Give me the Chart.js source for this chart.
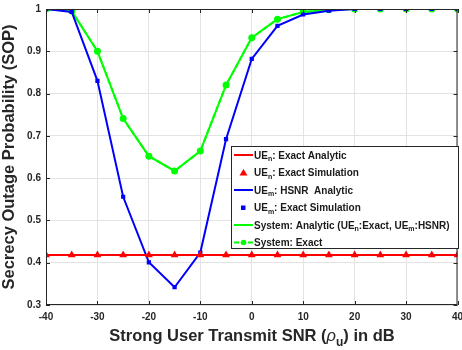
<!DOCTYPE html>
<html>
<head>
<meta charset="utf-8">
<script src="https://cdn.jsdelivr.net/npm/chart.js@4/dist/chart.umd.min.js"></script>
<style>
  html, body { margin: 0; padding: 0; background: #fff; }
  #wrap { width: 462px; height: 350px; position: relative; }
</style>
</head>
<body>
<div id="wrap"><canvas id="sopChart" width="462" height="350"></canvas></div>
<script>
// SNR axis (dB)
const snr = [-40, -35, -30, -25, -20, -15, -10, -5, 0, 5, 10, 15, 20, 25, 30, 35, 40];
// UE_n exact (flat)
const ueN = [0.418, 0.418, 0.418, 0.418, 0.418, 0.418, 0.418, 0.418, 0.418, 0.418, 0.418, 0.418, 0.418, 0.418, 0.418, 0.418, 0.418];
// UE_m HSNR analytic / exact simulation
const ueM = [1, 0.993, 0.83, 0.556, 0.401, 0.342, 0.424, 0.692, 0.882, 0.96, 0.987, 0.996, 1, 1, 1, 1, 1];
// System SOP
const sys = [1, 0.995, 0.90, 0.741, 0.652, 0.617, 0.664, 0.82, 0.932, 0.976, 0.993, 0.998, 1, 1, 1, 1, 1];

const xTicks = [-40, -30, -20, -10, 0, 10, 20, 30, 40];
const yTicks = [0.3, 0.4, 0.5, 0.6, 0.7, 0.8, 0.9, 1];

const RED = '#ff0000', BLUE = '#0000ff', GREEN = '#00ff00';
const FONT = '"Liberation Sans", Arial, sans-serif';

// legend rows: [segments, style]; segment = [text, isSubscript]
const legendRows = [
  { segs: [['UE', 0], ['n', 1], [': Exact Analytic', 0]], color: RED, kind: 'line' },
  { segs: [['UE', 0], ['n', 1], [': Exact Simulation', 0]], color: RED, kind: 'triangle' },
  { segs: [['UE', 0], ['m', 1], [': HSNR  Analytic', 0]], color: BLUE, kind: 'line' },
  { segs: [['UE', 0], ['m', 1], [': Exact Simulation', 0]], color: BLUE, kind: 'square' },
  { segs: [['System: Analytic (UE', 0], ['n', 1], [':Exact, UE', 0], ['m', 1], [':HSNR)', 0]], color: GREEN, kind: 'line' },
  { segs: [['System: Exact', 0]], color: GREEN, kind: 'dashcircle' }
];

function pts(arr) {
  return arr.map((v, i) => ({ x: snr[i], y: v }));
}

// draws frame, inner ticks, legend box and x title
const decorPlugin = {
  id: 'decor',
  afterDatasetsDraw(chart) {
    const { ctx, chartArea: a, scales } = chart;
    ctx.save();
    // frame
    ctx.strokeStyle = '#262626';
    ctx.lineWidth = 1;
    ctx.strokeRect(a.left + 0.5, a.top + 0.5, a.right - a.left - 1, a.bottom - a.top - 1);
    // inward tick marks
    ctx.beginPath();
    xTicks.forEach(t => {
      const px = Math.round(scales.x.getPixelForValue(t)) + 0.5;
      ctx.moveTo(px, a.bottom); ctx.lineTo(px, a.bottom - 4);
      ctx.moveTo(px, a.top); ctx.lineTo(px, a.top + 4);
    });
    yTicks.forEach(t => {
      const py = Math.round(scales.y.getPixelForValue(t)) + 0.5;
      ctx.moveTo(a.left, py); ctx.lineTo(a.left + 4, py);
      ctx.moveTo(a.right, py); ctx.lineTo(a.right - 4, py);
    });
    ctx.stroke();

    // legend
    const bx = 231.5, by = 146.5, bw = 227, bh = 102;
    ctx.fillStyle = '#fff';
    ctx.fillRect(bx, by, bw, bh);
    ctx.strokeStyle = '#262626';
    ctx.strokeRect(bx, by, bw, bh);
    legendRows.forEach((r, i) => {
      const cy = 155 + i * 17.5;
      ctx.strokeStyle = r.color;
      ctx.fillStyle = r.color;
      ctx.lineWidth = 2;
      if (r.kind === 'line') {
        ctx.beginPath(); ctx.moveTo(234, cy); ctx.lineTo(253, cy); ctx.stroke();
      } else if (r.kind === 'triangle') {
        ctx.beginPath(); ctx.moveTo(243.5, cy - 3.5); ctx.lineTo(247.5, cy + 3); ctx.lineTo(239.5, cy + 3); ctx.closePath(); ctx.fill();
      } else if (r.kind === 'square') {
        ctx.fillRect(241, cy - 2, 4.5, 4.5);
      } else if (r.kind === 'dashcircle') {
        ctx.beginPath(); ctx.moveTo(234, cy); ctx.lineTo(239, cy); ctx.moveTo(248, cy); ctx.lineTo(253, cy); ctx.stroke();
        ctx.beginPath(); ctx.arc(243.5, cy, 2.8, 0, Math.PI * 2); ctx.fill();
      }
      let tx = 254;
      ctx.fillStyle = '#1a1a1a';
      ctx.textBaseline = 'alphabetic';
      ctx.textAlign = 'left';
      r.segs.forEach(([s, sub]) => {
        ctx.font = sub ? 'bold 7px ' + FONT : 'bold 10px ' + FONT;
        ctx.fillText(s, tx, cy + (sub ? 6 : 3.5));
        tx += ctx.measureText(s).width;
      });
    });

    // x axis title with rho_u
    const parts = [
      ['Strong User Transmit SNR (', 'bold 16.5px ' + FONT, 0],
      ['\u03c1', 'italic 16.5px ' + FONT, 0],
      ['u', 'bold 12px ' + FONT, 5],
      [') in dB', 'bold 16.5px ' + FONT, 0]
    ];
    let total = 0;
    parts.forEach(p => { ctx.font = p[1]; total += ctx.measureText(p[0]).width; });
    let x0 = 252 - total / 2;
    ctx.fillStyle = '#262626';
    parts.forEach(p => {
      ctx.font = p[1];
      ctx.fillText(p[0], x0, 341 + p[2]);
      x0 += ctx.measureText(p[0]).width;
    });
    ctx.restore();
  }
};

new Chart(document.getElementById('sopChart'), {
  type: 'line',
  data: {
    datasets: [
      { label: 'UEn: Exact Analytic', data: pts(ueN), borderColor: RED, borderWidth: 2, pointRadius: 0 },
      { label: 'UEn: Exact Simulation', data: pts(ueN), showLine: false, pointStyle: 'triangle', pointRadius: 4.5, backgroundColor: RED, borderColor: RED, borderWidth: 0 },
      { label: 'UEm: HSNR Analytic', data: pts(ueM), borderColor: BLUE, borderWidth: 2, pointRadius: 0 },
      { label: 'UEm: Exact Simulation', data: pts(ueM), showLine: false, pointStyle: 'rect', pointRadius: 3, backgroundColor: BLUE, borderColor: BLUE, borderWidth: 0 },
      { label: 'System: Analytic', data: pts(sys), borderColor: GREEN, borderWidth: 2, pointRadius: 0 },
      { label: 'System: Exact', data: pts(sys), borderColor: GREEN, borderWidth: 2, borderDash: [5, 3], pointStyle: 'circle', pointRadius: 3.5, backgroundColor: GREEN, pointBorderWidth: 0 }
    ]
  },
  options: {
    responsive: false,
    animation: false,
    layout: { padding: { top: 9, right: 2, left: 0, bottom: 0 } },
    plugins: { legend: { display: false }, tooltip: { enabled: false } },
    scales: {
      x: {
        type: 'linear', min: -40, max: 40,
        afterBuildTicks: s => { s.ticks = xTicks.map(v => ({ value: v })); },
        afterFit: s => { s.height = 45; s.paddingRight = 0; s.paddingLeft = 0; },
        grid: { color: '#e3e3e3', drawTicks: false },
        border: { display: false },
        ticks: { color: '#262626', font: { family: FONT, weight: 'bold', size: 10 }, padding: 6 }
      },
      y: {
        min: 0.3, max: 1,
        afterBuildTicks: s => { s.ticks = yTicks.map(v => ({ value: v })); },
        afterFit: s => { s.width = 46; s.paddingTop = 0; s.paddingBottom = 0; },
        grid: { color: '#e3e3e3', drawTicks: false },
        border: { display: false },
        ticks: { color: '#262626', font: { family: FONT, weight: 'bold', size: 10 }, padding: 5,
          callback: v => (v === 1 ? '1' : v.toFixed(1)) },
        title: { display: true, text: 'Secrecy Outage Probability (SOP)', color: '#262626',
          font: { family: FONT, weight: 'bold', size: 16.5 }, padding: { top: 0, bottom: 0 } }
      }
    }
  },
  plugins: [decorPlugin]
});
</script>
</body>
</html>
